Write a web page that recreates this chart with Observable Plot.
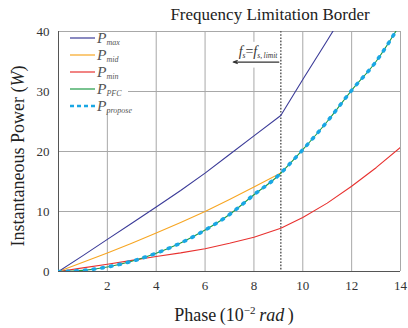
<!DOCTYPE html>
<html>
<head>
<meta charset="utf-8">
<script src="https://cdn.jsdelivr.net/npm/d3@7"></script>
<script src="https://cdn.jsdelivr.net/npm/@observablehq/plot@0.6"></script>
<style>
  html, body { margin: 0; padding: 0; background: #fff; }
  #chart svg { display: block; }
</style>
</head>
<body>
<div id="chart"></div>
<script>
// ---- data ----
const title = "Frequency Limitation Border";
const xTicks = [2, 4, 6, 8, 10, 12, 14];
const yTicks = [0, 10, 20, 30, 40];
const limitPhase = 9.1;

const phaseMax = [0, 1, 2, 3, 4, 5, 6, 7, 8, 9.1, 10, 11, 11.5];
const pMax     = [0, 2.65, 5.35, 8.05, 10.75, 13.5, 16.4, 19.5, 22.6, 26, 32, 38.5, 41.8];

const phaseMid = [0, 1, 2, 3, 4, 5, 6, 7, 8, 9.1];
const pMid     = [0, 1.55, 3.1, 4.7, 6.4, 8.15, 10, 12, 14.1, 16.4];

const phaseMin = [0, 1, 2, 3, 4, 5, 6, 7, 8, 9.1, 10, 11, 12, 13, 14];
const pMin     = [0, 0.6, 1.2, 1.85, 2.5, 3.1, 3.8, 4.7, 5.7, 7.2, 9, 11.4, 14.2, 17.3, 20.7];

const phasePFC = [0, 1, 2, 3, 4, 5, 6, 7, 8, 9, 9.1, 10, 11, 12, 13, 14];
const pPFC     = [0, 0.19, 0.76, 1.7, 3.05, 4.75, 6.9, 9.5, 12.8, 16.0, 16.4, 20.3, 25, 30.2, 35, 41.3];

const phasePropose = [0, 1, 2, 3, 4, 5, 6, 7, 8, 9, 9.1, 10, 11, 12, 13, 14];
const pPropose     = [0, 0.19, 0.76, 1.7, 3.05, 4.75, 6.9, 9.5, 12.8, 16.0, 16.4, 20.3, 25, 30.2, 35, 41.3];

const seriesNames = ["max", "mid", "min", "PFC", "propose"];
const seriesColors = ["#3b3b98", "#f7a623", "#e8312f", "#1f9a45", "#1aa7e4"];

const toRows = (xs, ys) => xs.map((x, i) => ({x, y: ys[i]}));
const rowsMax = toRows(phaseMax, pMax);
const rowsMid = toRows(phaseMid, pMid);
const rowsMin = toRows(phaseMin, pMin);
const rowsPFC = toRows(phasePFC, pPFC);
const rowsPropose = toRows(phasePropose, pPropose);

const FONT = "Liberation Serif, Times New Roman, serif";

const plot = Plot.plot({
  width: 408,
  height: 328,
  marginLeft: 58,
  marginRight: 8,
  marginTop: 31,
  marginBottom: 57,
  style: {fontFamily: FONT, background: "#fff"},
  x: {domain: [0, 14]},
  y: {domain: [0, 40]},
  marks: [
    Plot.gridX(xTicks, {stroke: "#a8a8a8", strokeOpacity: 1, strokeWidth: 1}),
    Plot.gridY([10, 20, 30, 40], {stroke: "#a8a8a8", strokeOpacity: 1, strokeWidth: 1}),
    Plot.ruleX([0], {stroke: "#555", strokeWidth: 1}),
    Plot.ruleY([0], {stroke: "#555", strokeWidth: 1}),
    Plot.axisX(xTicks, {tickSize: 0, tickPadding: 9, fontSize: 13, fill: "#333", label: null}),
    Plot.axisY(yTicks, {tickSize: 0, tickPadding: 9, fontSize: 13, fill: "#333", label: null}),
    // annotation background
    Plot.rect([{x1: 6.95, x2: 9.0, y1: 33.9, y2: 38.2}], {x1: "x1", x2: "x2", y1: "y1", y2: "y2", fill: "#fff"}),
    Plot.ruleX([limitPhase], {stroke: "#666", strokeWidth: 1.6, strokeDasharray: "1.6,1.6"}),
    Plot.line(rowsMin, {x: "x", y: "y", stroke: seriesColors[2], strokeWidth: 1.1, clip: true}),
    Plot.line(rowsMid, {x: "x", y: "y", stroke: seriesColors[1], strokeWidth: 1.1, clip: true}),
    Plot.line(rowsMax, {x: "x", y: "y", stroke: seriesColors[0], strokeWidth: 1.1, clip: true}),
    Plot.line(rowsPFC, {x: "x", y: "y", stroke: seriesColors[3], strokeWidth: 1.1, curve: "monotone-x", clip: true}),
    Plot.line(rowsPropose, {x: "x", y: "y", stroke: seriesColors[4], strokeWidth: 3.6, strokeDasharray: "1.6,7.1", strokeLinecap: "round", curve: "monotone-x", clip: true}),
    Plot.arrow([{x1: 9.02, x2: 7.15, y: 34.9}], {x1: "x1", x2: "x2", y1: "y", y2: "y", stroke: "#333", strokeWidth: 1.1, headLength: 6, headAngle: 40})
  ]
});

document.getElementById("chart").appendChild(plot);

const svg = d3.select(plot);
const sx = plot.scale("x"), sy = plot.scale("y");
const X = v => sx.apply(v), Y = v => sy.apply(v);

// Title
svg.append("text")
  .attr("x", 270).attr("y", 19.5)
  .attr("text-anchor", "middle")
  .attr("font-family", FONT).attr("font-size", 17).attr("fill", "#222")
  .text(title);

// x label
const xl = svg.append("text")
  .attr("x", 234).attr("y", 321)
  .attr("text-anchor", "middle")
  .attr("font-family", FONT).attr("font-size", 18).attr("fill", "#222");
xl.append("tspan").text("Phase\u2009(10");
xl.append("tspan").attr("font-size", 11).attr("dy", -7).text("\u22122");
xl.append("tspan").attr("dy", 7).attr("font-style", "italic").text("\u2009rad");
xl.append("tspan").text("\u2009)");

// y label
const yl = svg.append("text")
  .attr("transform", "translate(24,156) rotate(-90)")
  .attr("text-anchor", "middle")
  .attr("font-family", FONT).attr("font-size", 18).attr("fill", "#222");
yl.append("tspan").text("Instantaneous Power (");
yl.append("tspan").attr("font-style", "italic").text("W");
yl.append("tspan").text(")");

// annotation text f_s = f_s,limit
const at = svg.append("text")
  .attr("x", X(limitPhase) - 3).attr("y", Y(35.8))
  .attr("text-anchor", "end")
  .attr("font-family", FONT).attr("font-size", 14).attr("fill", "#333");
at.append("tspan").attr("font-style", "italic").text("f");
at.append("tspan").attr("font-style", "italic").attr("font-size", 7.5).attr("dy", 2).text("s");
at.append("tspan").attr("dy", -2).text("=");
at.append("tspan").attr("font-style", "italic").text("f");
at.append("tspan").attr("font-style", "italic").attr("font-size", 7.5).attr("dy", 2).text("s,\u2009limit");

// legend
const lg = svg.append("g");
lg.append("rect").attr("x", X(0) + 1).attr("y", Y(40) + 1)
  .attr("width", 69).attr("height", 78).attr("fill", "#fff");
const rowY = [38, 55, 72, 89, 106];
seriesNames.forEach((name, i) => {
  const y = rowY[i];
  const isDash = name === "propose";
  lg.append("line")
    .attr("x1", 70).attr("x2", 95).attr("y1", y).attr("y2", y)
    .attr("stroke", seriesColors[i])
    .attr("stroke-width", isDash ? 2.4 : 1.2)
    .attr("stroke-dasharray", isDash ? "4,3" : null);
  const t = lg.append("text")
    .attr("x", 97).attr("y", y + 4.5)
    .attr("text-anchor", "start")
    .attr("font-family", FONT).attr("font-size", 15.5).attr("fill", "#555")
    .attr("font-style", "italic");
  t.append("tspan").text("P");
  t.append("tspan").attr("font-size", 8).attr("dy", 2.5).text(name);
});
</script>
</body>
</html>
